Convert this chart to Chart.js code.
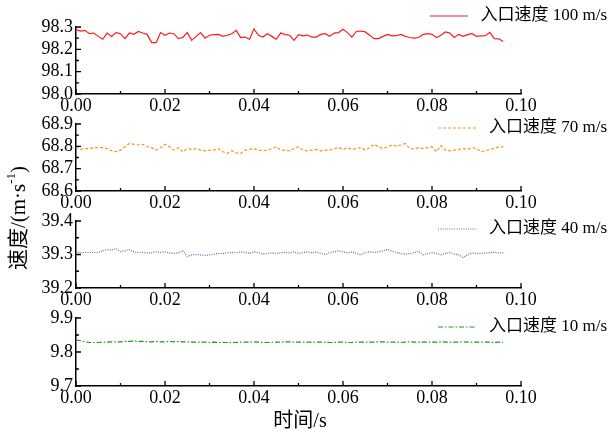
<!DOCTYPE html>
<html>
<head>
<meta charset="utf-8">
<script src="https://cdn.jsdelivr.net/npm/chart.js@4"></script>
<style>
    body { margin: 0; background: #fff; }
    #wrap { position: relative; width: 610px; height: 434px; }
    canvas { position: absolute; left: 0; top: 0; }
</style>
</head>
<body>
<div id="wrap">
    <canvas id="g1" width="610" height="434"></canvas>
    <canvas id="g2" width="610" height="434"></canvas>
    <canvas id="g3" width="610" height="434"></canvas>
    <canvas id="g4" width="610" height="434"></canvas>
</div>
<script>
// velocidad en cada instante (paso 0.001 s)
const v100 = [98.288, 98.282, 98.285, 98.270, 98.273, 98.258, 98.245, 98.273, 98.258, 98.275,
    98.270, 98.248, 98.273, 98.267, 98.280, 98.273, 98.267, 98.230, 98.230, 98.275,
    98.263, 98.273, 98.270, 98.248, 98.253, 98.275, 98.240, 98.258, 98.275, 98.250,
    98.263, 98.266, 98.267, 98.258, 98.263, 98.270, 98.285, 98.253, 98.255, 98.245,
    98.291, 98.263, 98.255, 98.270, 98.258, 98.245, 98.273, 98.266, 98.263, 98.240,
    98.266, 98.260, 98.264, 98.255, 98.255, 98.267, 98.270, 98.258, 98.273, 98.275,
    98.290, 98.275, 98.255, 98.280, 98.282, 98.278, 98.263, 98.248, 98.248, 98.258,
    98.267, 98.260, 98.261, 98.267, 98.258, 98.253, 98.250, 98.253, 98.267, 98.270,
    98.267, 98.253, 98.263, 98.278, 98.273, 98.253, 98.267, 98.258, 98.266, 98.270,
    98.258, 98.260, 98.261, 98.276, 98.248, 98.247, 98.235];
const v70 = [68.798, 68.786, 68.790, 68.790, 68.794, 68.794, 68.794, 68.790, 68.780, 68.776,
    68.783, 68.798, 68.813, 68.809, 68.806, 68.809, 68.798, 68.794, 68.783, 68.794,
    68.809, 68.798, 68.783, 68.794, 68.776, 68.790, 68.786, 68.790, 68.783, 68.780,
    68.783, 68.783, 68.790, 68.776, 68.768, 68.780, 68.771, 68.768, 68.783, 68.786,
    68.790, 68.783, 68.780, 68.783, 68.790, 68.798, 68.783, 68.783, 68.780, 68.790,
    68.798, 68.783, 68.780, 68.783, 68.786, 68.780, 68.783, 68.783, 68.790, 68.795,
    68.786, 68.794, 68.786, 68.790, 68.794, 68.783, 68.794, 68.809, 68.798, 68.790,
    68.798, 68.806, 68.801, 68.806, 68.813, 68.790, 68.788, 68.794, 68.790, 68.794,
    68.798, 68.776, 68.803, 68.783, 68.780, 68.783, 68.786, 68.790, 68.786, 68.794,
    68.790, 68.776, 68.780, 68.786, 68.790, 68.798, 68.798];
const v40 = [39.308, 39.306, 39.306, 39.306, 39.306, 39.306, 39.311, 39.315, 39.313, 39.318,
    39.308, 39.311, 39.315, 39.308, 39.306, 39.306, 39.305, 39.305, 39.308, 39.306,
    39.308, 39.305, 39.303, 39.305, 39.311, 39.294, 39.299, 39.300, 39.299, 39.297,
    39.299, 39.301, 39.303, 39.303, 39.305, 39.306, 39.305, 39.308, 39.306, 39.303,
    39.308, 39.306, 39.301, 39.303, 39.305, 39.303, 39.305, 39.306, 39.305, 39.308,
    39.303, 39.306, 39.308, 39.305, 39.308, 39.303, 39.300, 39.305, 39.308, 39.311,
    39.308, 39.305, 39.308, 39.303, 39.299, 39.306, 39.308, 39.306, 39.308, 39.311,
    39.315, 39.310, 39.306, 39.303, 39.301, 39.303, 39.305, 39.310, 39.299, 39.303,
    39.305, 39.303, 39.299, 39.303, 39.306, 39.301, 39.299, 39.291, 39.299, 39.305,
    39.303, 39.303, 39.305, 39.305, 39.307, 39.305, 39.305];
const v10 = [9.836, 9.833, 9.830, 9.828, 9.828, 9.828, 9.829, 9.829, 9.830, 9.830,
    9.830, 9.831, 9.831, 9.832, 9.831, 9.831, 9.830, 9.830, 9.831, 9.830,
    9.830, 9.831, 9.830, 9.831, 9.830, 9.830, 9.829, 9.829, 9.829, 9.829,
    9.828, 9.829, 9.828, 9.828, 9.828, 9.828, 9.828, 9.829, 9.829, 9.829,
    9.830, 9.829, 9.828, 9.828, 9.828, 9.829, 9.829, 9.830, 9.830, 9.829,
    9.829, 9.829, 9.829, 9.829, 9.829, 9.829, 9.829, 9.828, 9.828, 9.829,
    9.829, 9.828, 9.828, 9.829, 9.829, 9.829, 9.829, 9.829, 9.830, 9.830,
    9.829, 9.829, 9.829, 9.828, 9.829, 9.830, 9.829, 9.829, 9.829, 9.829,
    9.829, 9.829, 9.830, 9.829, 9.829, 9.829, 9.829, 9.830, 9.829, 9.829,
    9.829, 9.829, 9.829, 9.829, 9.828, 9.829, 9.828];
const tiempo = v100.map((_, i) => i * 0.001);

const xTicks = [0, 0.02, 0.04, 0.06, 0.08, 0.10];
const yTicks100 = [98.0, 98.1, 98.2, 98.3];
const yTicks70 = [68.6, 68.7, 68.8, 68.9];
const yTicks40 = [39.2, 39.3, 39.4];
const yTicks10 = [9.7, 9.8, 9.9];
const nombres = ['入口速度 100 m/s', '入口速度 70 m/s', '入口速度 40 m/s', '入口速度 10 m/s'];

const FUENTE = '"Liberation Serif", "Times New Roman", "Noto Sans CJK SC", serif';

const paneles = [
    { id: 'g1', datos: v100, ticks: yTicks100, top: 27, bottom: 94, color: '#ff1a1a', dash: [], legY: 16, legX: 430 },
    { id: 'g2', datos: v70, ticks: yTicks70, top: 124, bottom: 191, color: '#f7931e', dash: [3, 2], legY: 128, legX: 438 },
    { id: 'g3', datos: v40, ticks: yTicks40, top: 221, bottom: 288, color: '#4f74a8', dash: [1, 1.3], legY: 229, legX: 438 },
    { id: 'g4', datos: v10, ticks: yTicks10, top: 318, bottom: 386, color: '#1a9a1a', dash: [5, 2, 1.5, 2], legY: 327, legX: 438 }
];

// marcas hacia dentro, mayores y menores, leyenda y títulos
const marcas = {
    id: 'marcas',
    afterDraw(chart, args, opts) {
        const ctx = chart.ctx;
        const sx = chart.scales.x, sy = chart.scales.y;
        const a = chart.chartArea;
        ctx.save();
        ctx.strokeStyle = '#000';
        ctx.lineWidth = 1.3;
        ctx.beginPath();
        sx.ticks.forEach((t, i) => {
            const px = sx.getPixelForValue(t.value);
            ctx.moveTo(px, a.bottom); ctx.lineTo(px, a.bottom - 5);
            if (i < sx.ticks.length - 1) {
                const mx = sx.getPixelForValue((t.value + sx.ticks[i + 1].value) / 2);
                ctx.moveTo(mx, a.bottom); ctx.lineTo(mx, a.bottom - 3);
            }
        });
        sy.ticks.forEach((t, i) => {
            const py = sy.getPixelForValue(t.value);
            ctx.moveTo(a.left, py); ctx.lineTo(a.left + 5, py);
            if (i < sy.ticks.length - 1) {
                const my = sy.getPixelForValue((t.value + sy.ticks[i + 1].value) / 2);
                ctx.moveTo(a.left, my); ctx.lineTo(a.left + 3, my);
            }
        });
        ctx.stroke();

        // leyenda
        const ds = chart.data.datasets[0];
        ctx.strokeStyle = ds.borderColor;
        ctx.lineWidth = 1.2;
        ctx.setLineDash(ds.borderDash || []);
        ctx.beginPath();
        ctx.moveTo(opts.legX, opts.legY);
        ctx.lineTo(opts.legX + 38, opts.legY);
        ctx.stroke();
        ctx.setLineDash([]);
        ctx.fillStyle = '#000';
        ctx.font = '17px ' + FUENTE;
        ctx.textAlign = 'right';
        ctx.textBaseline = 'middle';
        ctx.fillText(ds.label, 607, opts.legY);

        if (opts.titulos) {
            ctx.font = '20px ' + FUENTE;
            ctx.textAlign = 'center';
            ctx.textBaseline = 'middle';
            ctx.fillText('时间/s', 300, 422);

            ctx.translate(19, 218);
            ctx.rotate(-Math.PI / 2);
            ctx.textAlign = 'left';
            const p1 = '速度/(m·s', p2 = '-1', p3 = ')';
            ctx.font = '21px ' + FUENTE;
            const w1 = ctx.measureText(p1).width, w3 = ctx.measureText(p3).width;
            ctx.font = '13px ' + FUENTE;
            const w2 = ctx.measureText(p2).width;
            let x = -(w1 + w2 + w3) / 2;
            ctx.font = '21px ' + FUENTE;
            ctx.fillText(p1, x, 0);
            x += w1;
            ctx.font = '13px ' + FUENTE;
            ctx.fillText(p2, x, -7);
            x += w2;
            ctx.font = '21px ' + FUENTE;
            ctx.fillText(p3, x, 0);
        }
        ctx.restore();
    }
};

paneles.forEach((p, n) => {
    const ctx = document.getElementById(p.id).getContext('2d');
    const yMin = p.ticks[0], yMax = p.ticks[p.ticks.length - 1];
    new Chart(ctx, {
        type: 'line',
        data: {
            datasets: [{
                label: nombres[n],
                data: p.datos.map((v, i) => ({ x: tiempo[i], y: v })),
                borderColor: p.color,
                borderWidth: 1.2,
                borderDash: p.dash,
                pointRadius: 0,
                tension: 0,
                fill: false
            }]
        },
        options: {
            responsive: false,
            animation: false,
            events: [],
            layout: { padding: { left: 16, top: p.top, right: 610 - 521, bottom: 434 - p.bottom - 30 } },
            plugins: {
                legend: { display: false },
                tooltip: { enabled: false },
                marcas: { legX: p.legX, legY: p.legY, titulos: n === 3 }
            },
            scales: {
                x: {
                    type: 'linear', min: 0, max: 0.1,
                    afterBuildTicks: s => { s.ticks = xTicks.map(v => ({ value: v })); },
                    afterFit: s => { s.height = 30; },
                    grid: { display: false, drawTicks: false },
                    border: { display: true, color: '#000', width: 1.5 },
                    ticks: {
                        color: '#000', padding: 1, maxRotation: 0, autoSkip: false,
                        font: { family: FUENTE, size: 18 },
                        callback: v => v.toFixed(2)
                    }
                },
                y: {
                    type: 'linear', min: yMin, max: yMax,
                    afterBuildTicks: s => { s.ticks = p.ticks.map(v => ({ value: v })); },
                    afterFit: s => { s.width = 60; },
                    grid: { display: false, drawTicks: false },
                    border: { display: true, color: '#000', width: 1.5 },
                    ticks: {
                        color: '#000', padding: 3, autoSkip: false,
                        font: { family: FUENTE, size: 18 },
                        callback: v => v.toFixed(1)
                    }
                }
            }
        },
        plugins: [marcas]
    });
});
</script>
</body>
</html>
